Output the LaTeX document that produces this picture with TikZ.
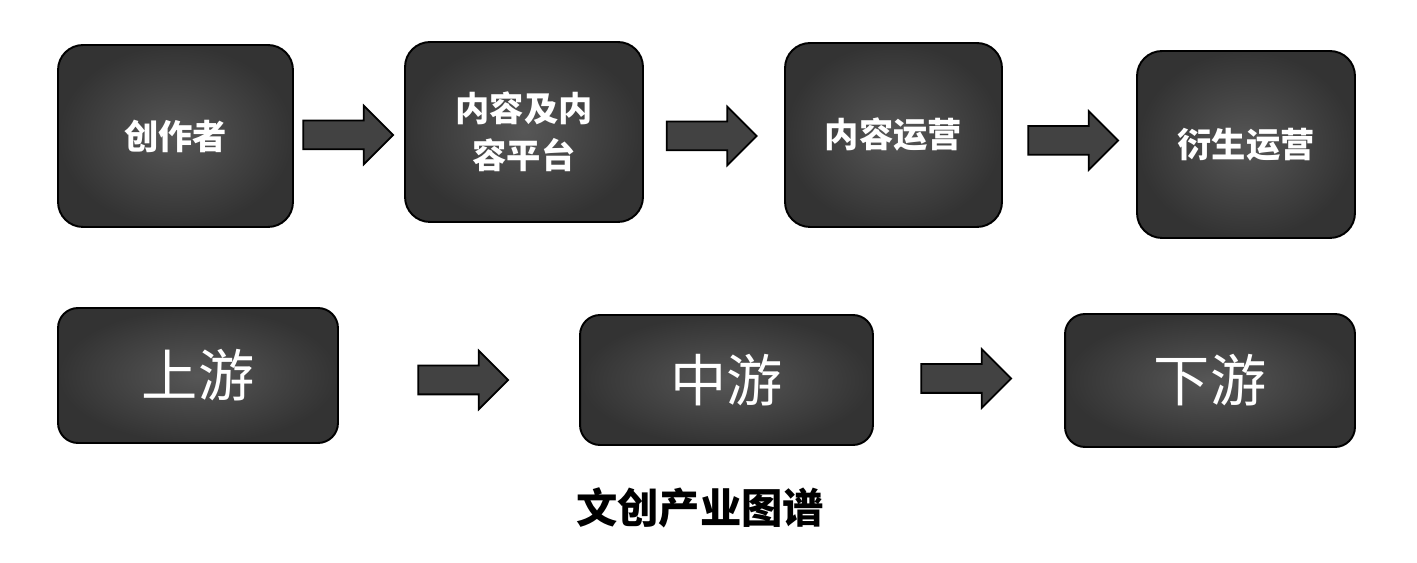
\documentclass[tikz,border=0pt]{standalone}
\usepackage{fontspec}
\newfontfamily\cjk{Noto Sans CJK SC}
\usepackage{tikz}
\usetikzlibrary{shapes.arrows, calc}

\begin{document}
\begin{tikzpicture}[x=0.02cm, y=-0.02cm,
    stage/.style={draw=black, line width=1.1pt, rounded corners=0.5cm,
        inner color=black!66, outer color=black!80,
        text=white, font=\cjk\bfseries\fontsize{19.5}{26.5}\selectfont, align=center},
    part/.style={draw=black, line width=1.1pt, rounded corners=0.4cm,
        inner color=black!66, outer color=black!80,
        text=white, font=\cjk\fontsize{32}{36}\selectfont},
    flow/.style={single arrow, draw=black, line width=1pt, fill=black!74,
        inner xsep=0pt, inner ysep=0.27cm, minimum height=1.8cm, minimum width=1.14cm,
        single arrow head extend=0.3cm}]

    % Background and frame
    \useasboundingbox (0,0) rectangle (1417,563);
    \fill[white] (0,0) rectangle (1417,563);

    % Top row: chain of activities
    \node[stage, minimum width=4.7cm, minimum height=3.64cm] (creator) at (175.5,136) {创作者};
    \node[stage, minimum width=4.76cm, minimum height=3.6cm] (platform) at (524,132) {内容及内\\容平台};
    \node[stage, minimum width=4.34cm, minimum height=3.68cm] (operate) at (893.5,135) {内容运营};
    \node[stage, minimum width=4.36cm, minimum height=3.74cm] (derive) at (1246,144.5) {衍生运营};

    \node[flow] (fa) at (341,135) {};
    \node[flow] (fb) at (704.5,136) {};
    \node[flow] (fc) at (1066,140.5) {};

    % Bottom row: up, mid and down stream
    \node[part, minimum width=5.6cm, minimum height=2.7cm] (up) at (198,375.5) {上游};
    \node[part, minimum width=5.86cm, minimum height=2.6cm] (mid) at (726.5,380) {中游};
    \node[part, minimum width=5.8cm, minimum height=2.66cm] (down) at (1210,380.5) {下游};

    \node[flow] (fd) at (456,380) {};
    \node[flow] (fe) at (959,378.5) {};

    % Caption
    \node[font=\cjk\bfseries\fontsize{23.5}{28}\selectfont] (title) at (700,508) {文创产业图谱};

\end{tikzpicture}
\end{document}
